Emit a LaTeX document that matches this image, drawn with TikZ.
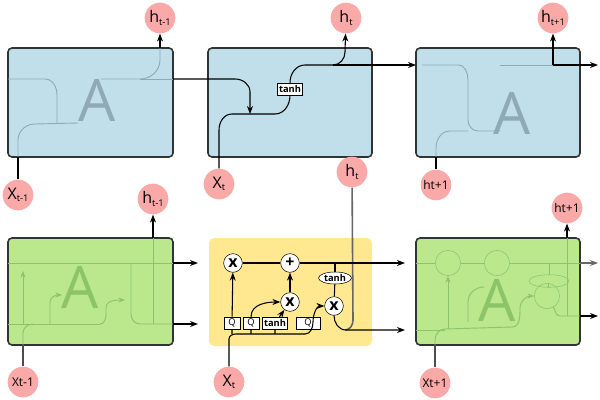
\documentclass[tikz,border=0pt]{standalone}
\usepackage{fontspec}
\setmainfont{Open Sans}
\usetikzlibrary{arrows.meta, positioning, shapes.geometric}
\definecolor{cellblue}{HTML}{C1DFEA}
\definecolor{cellgreen}{HTML}{BBE78D}
\definecolor{cellyellow}{HTML}{FFE88F}
\definecolor{dotpink}{HTML}{F9A9A8}
\definecolor{lineblue}{HTML}{8FAAB5}
\definecolor{linegreen}{HTML}{8CC46A}
\tikzset{
    cellnode/.style = {draw=black!80, line width=1.2pt, rounded corners=3pt},
    labelnode/.style = {circle, fill=dotpink, minimum size=23pt, inner sep=0pt, font=\large},
    smalllabelnode/.style = {circle, fill=dotpink, minimum size=23pt, inner sep=0pt, font=\small},
    opnode/.style = {circle, draw, fill=white, minimum size=14pt, inner sep=0pt, font=\large\bfseries},
    gatenode/.style = {draw, fill=white, rectangle, inner sep=1pt, minimum height=9pt, font=\scriptsize},
    ghost/.style = {line width=0.7pt},
    connect/.style = {black, line width=0.8pt, -{Stealth[length=6pt]}},
    wire/.style = {black, line width=0.8pt},
    every text node part/.style={align=center}
}
\newcommand{\hsub}[2]{#1\raisebox{-0.3ex}{\scriptsize #2}}
\begin{document}
\begin{tikzpicture}[x=0.75pt, y=-0.75pt]
    \useasboundingbox (0,0) rectangle (600,400);
    % top row: simple cells
    \draw[cellnode, fill=cellblue] (8,48) rectangle (173,157);
    \draw[cellnode, fill=cellblue] (208,48) rectangle (372,157);
    \draw[cellnode, fill=cellblue] (416,48) rectangle (580,157);
    \node[font=\fontsize{44}{44}\selectfont, text=lineblue] (A1) at (97,100) {A};
    \node[font=\fontsize{44}{44}\selectfont, text=lineblue] (A3) at (512,113) {A};
    \node[labelnode] (h1) at (160,18) {\hsub{h}{t-1}};
    \node[labelnode] (h2) at (346,18) {\hsub{h}{t}};
    \node[labelnode] (h3) at (553,18) {\hsub{h}{t+1}};
    \node[labelnode] (x1) at (18,195) {\hsub{X}{t-1}};
    \node[labelnode] (x2) at (219,184) {\hsub{X}{t}};
    \node[smalllabelnode] (x3) at (436,185) {ht+1};
    \coordinate (c1) at (160,48);
    \coordinate (c3) at (553,65);
    % left cell
    \draw[lineblue, ghost] (8,79) -- (45,79) to[out=0, in=90] (57,95) -- (57,123);
    \draw[lineblue, ghost] (18,157) -- (18,140) to[out=90, in=180] (35,124) -- (78,123);
    \draw[lineblue, ghost] (101,79) -- (140,79) to[out=0, in=-90] (160,60) -- (c1);
    \draw[lineblue, ghost] (140,79) -- (173,79);
    \draw[connect] (c1) -- (h1);
    \draw[wire] (x1) -- (18,157);
    \draw[connect] (173,79) -- (235,79) to[out=0, in=90] (250,92) -- (250,114);
    % middle cell
    \node[gatenode, font=\scriptsize\bfseries] (tanh1) at (290,89) {tanh};
    \draw[wire] (x2) -- (219,130) to[out=90, in=180] (232,114) -- (275,114) to[out=0, in=-90] (tanh1);
    \draw[wire] (tanh1) to[out=90, in=180] (305,65) -- (333,65);
    \draw[connect] (333,65) to[out=0, in=-90] (345,52) -- (h2);
    \draw[connect] (333,65) -- (416,65);
    % right cell
    \draw[lineblue, ghost] (422,65) -- (458,65) to[out=0, in=90] (468,80) -- (468,120) to[out=-90, in=180] (478,131) -- (500,131);
    \draw[lineblue, ghost] (436,157) -- (436,148) to[out=90, in=180] (450,131) -- (468,131);
    \draw[lineblue, ghost] (500,65) -- (c3);
    \draw[wire] (x3) -- (436,157);
    \draw[connect] (c3) -- (h3);
    \draw[connect] (c3) -- (598,65);

    % bottom row: lstm cells
    \draw[cellnode, fill=cellgreen] (8,238) rectangle (173,345);
    \fill[cellyellow, rounded corners=4pt] (209,238) rectangle (372,346);
    \draw[cellnode, fill=cellgreen] (416,238) rectangle (580,345);
    \node[font=\fontsize{44}{44}\selectfont, text=linegreen] (A4) at (80,287) {A};
    \node[font=\fontsize{44}{44}\selectfont, text=linegreen] (A6) at (497,300) {A};
    \node[labelnode] (h4) at (153,199) {\hsub{h}{t-1}};
    \node[labelnode] (h5) at (352,172) {\hsub{h}{t}};
    \node[smalllabelnode] (h6) at (567,208) {ht+1};
    \node[smalllabelnode] (x4) at (23,382) {Xt-1};
    \node[labelnode] (x5) at (229,382) {\hsub{X}{t}};
    \node[smalllabelnode] (x6) at (435,383) {Xt+1};
    \coordinate (c4) at (153,238);
    \coordinate (c6) at (567,238);
    % left lstm
    \draw[linegreen, ghost] (8,263) -- (173,263);
    \draw[linegreen, ghost] (8,324) -- (100,324);
    \draw[linegreen, ghost] (131,263) -- (131,314) to[out=-90, in=180] (140,324) -- (173,324);
    \draw[linegreen, ghost] (153,324) -- (c4);
    \draw[linegreen, ghost] (23,345) -- (23,333) to[out=90, in=180] (33,324);
    \draw[linegreen, ghost, -{Stealth[length=5pt]}] (23,324) -- (23,271);
    \draw[linegreen, ghost, -{Stealth[length=5pt]}] (50,324) -- (50,302) to[out=90, in=180] (62,295);
    \draw[linegreen, ghost, -{Stealth[length=5pt]}] (100,324) to[out=0, in=-90] (106,314) -- (106,308) to[out=90, in=180] (125,300);
    \draw[wire, black!70] (x4) -- (23,345);
    \draw[connect] (c4) -- (h4);
    \draw[connect] (173,263) -- (198,263);
    \draw[connect] (173,324) -- (198,324);
    % middle lstm
    \node[gatenode, minimum width=12pt] (q1) at (232,323) {Q};
    \node[gatenode, minimum width=12pt] (q2) at (251,323) {Q};
    \node[gatenode, font=\scriptsize\bfseries] (tanh2) at (275,323) {tanh};
    \node[gatenode, minimum width=18pt] (q3) at (308,323) {Q};
    \draw[black!60, line width=1.2pt] (h5) -- (353,320) to[out=-90, in=0] (345,330);
    \node[opnode] (m1) at (233,263) {x};
    \node[opnode] (a1) at (290,263) {+};
    \node[opnode] (m2) at (290,302) {x};
    \node[opnode] (m3) at (334,306) {x};
    \node[ellipse, draw, fill=white, inner sep=0.5pt, font=\scriptsize\bfseries] (tanh3) at (335,278) {tanh};
    \draw[wire] (m1) -- (a1);
    \draw[connect] (a1) -- (405,263);
    \draw[wire] (335,263) -- (tanh3);
    \draw[wire] (tanh3) -- (m3);
    \draw[wire] (x5) -- (229,339) to[out=90, in=180] (236,334) -- (305,334);
    \draw[connect] (232,334) -- (q1) -- (m1);
    \draw[connect] (251,334) -- (q2) to[out=90, in=180] (m2);
    \draw[connect] (275,334) -- (tanh2) -- (m2);
    \draw[connect] (m2) -- (a1);
    \draw[connect] (305,334) to[out=0, in=-90] (313,322) to[out=90, in=180] (m3);
    \draw[connect] (m3) to[out=-90, in=180] (346,330) -- (405,330);
    % right lstm
    \node[circle, draw=linegreen, minimum size=19pt] (g1) at (448,263) {};
    \node[circle, draw=linegreen, minimum size=19pt] (g2) at (497,263) {};
    \node[circle, draw=linegreen, minimum size=19pt] (g3) at (547,296) {};
    \node[ellipse, draw=linegreen, minimum width=30pt, minimum height=8pt] (g4) at (549,281) {};
    \draw[linegreen, ghost] (416,263) -- (g1) -- (g2) -- (580,263);
    \draw[linegreen, ghost] (g4) -- (g3);
    \draw[linegreen, ghost] (549,263) -- (g4);
    \draw[linegreen, ghost, -{Stealth[length=5pt]}] (448,329) -- (g1);
    \draw[linegreen, ghost] (468,322) -- (468,302) to[out=90, in=180] (484,287);
    \draw[linegreen, ghost] (416,330) -- (445,330);
    \draw[linegreen, ghost] (435,345) -- (435,340) to[out=90, in=180] (445,329) -- (512,327);
    \draw[linegreen, ghost, -{Stealth[length=5pt]}] (512,327) to[out=0, in=-90] (520,308) to[out=90, in=180] (g3);
    \draw[linegreen, ghost] (g3) to[out=-60, in=180] (560,316) -- (580,316);
    \draw[linegreen, ghost] (567,316) -- (c6);
    \draw[wire, black!70] (x6) -- (435,345);
    \draw[connect] (c6) -- (h6);
    \draw[connect, black!60] (580,263) -- (598,263);
    \draw[connect] (580,316) -- (598,316);
\end{tikzpicture}
\end{document}
